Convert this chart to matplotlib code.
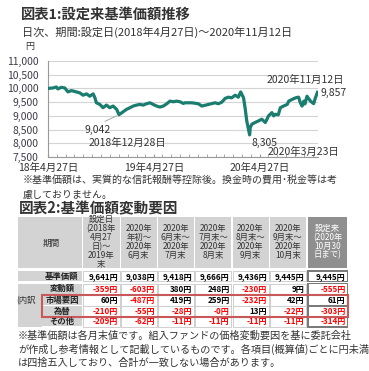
import matplotlib
matplotlib.use("Agg")
import matplotlib.pyplot as plt
import matplotlib.dates as mdates
from matplotlib.patches import Rectangle
from matplotlib.ticker import FuncFormatter
import pandas as pd

plt.rcParams['font.family'] = ['Noto Sans CJK JP', 'DejaVu Sans']

# chart data
dates = ["2018-04-27", "2018-05-14", "2018-05-26", "2018-05-31", "2018-06-12", "2018-06-24",
         "2018-07-05", "2018-07-17", "2018-08-03", "2018-08-15", "2018-08-26", "2018-09-07",
         "2018-09-18", "2018-09-30", "2018-10-06", "2018-10-11", "2018-10-23", "2018-11-03",
         "2018-11-15", "2018-11-26", "2018-12-08", "2018-12-20", "2018-12-28", "2019-01-12",
         "2019-01-23", "2019-02-04", "2019-02-15", "2019-02-27", "2019-03-10", "2019-03-22",
         "2019-04-02", "2019-04-14", "2019-04-25", "2019-05-07", "2019-05-18", "2019-05-30",
         "2019-06-11", "2019-06-22", "2019-07-04", "2019-07-15", "2019-07-27", "2019-08-07",
         "2019-08-13", "2019-09-05", "2019-09-28", "2019-10-10", "2019-11-02", "2019-11-25",
         "2019-12-06", "2019-12-18", "2019-12-30", "2020-01-10", "2020-01-21", "2020-02-02",
         "2020-02-13", "2020-02-21", "2020-03-02", "2020-03-08", "2020-03-13", "2020-03-23",
         "2020-03-25", "2020-03-31", "2020-04-11", "2020-04-23", "2020-05-04", "2020-05-16",
         "2020-05-22", "2020-05-27", "2020-06-08", "2020-06-14", "2020-06-19", "2020-06-30",
         "2020-07-07", "2020-07-18", "2020-07-31", "2020-08-05", "2020-08-16", "2020-08-31",
         "2020-09-08", "2020-09-14", "2020-09-20", "2020-09-26", "2020-09-30", "2020-10-07",
         "2020-10-19", "2020-10-30", "2020-11-05", "2020-11-12"]
nav = [10000, 10017, 10053, 9981, 10041, 10017,
       9873, 9921, 9873, 9837, 9753, 9801,
       9717, 9801, 9657, 9477, 9417, 9297,
       9393, 9297, 9357, 9237, 9042, 9153,
       9237, 9297, 9357, 9393, 9417, 9393,
       9441, 9477, 9417, 9357, 9321, 9357,
       9441, 9537, 9513, 9537, 9513, 9453,
       9477, 9477, 9441, 9357, 9417, 9477,
       9441, 9501, 9641, 9681, 9657, 9753,
       9681, 9873, 9657, 9237, 8818, 8305,
       8578, 8698, 8758, 8818, 8878, 8758,
       8878, 8998, 9118, 8998, 9058, 9038,
       9297, 9357, 9418, 9537, 9597, 9666,
       9681, 9477, 9357, 9537, 9436, 9717,
       9537, 9445, 9657, 9857]

# table data
col_heads = ["設定日\n(2018年\n4月27\n日)～\n2019年\n末",
             "2020年\n年初～\n2020年\n6月末",
             "2020年\n6月末～\n2020年\n7月末",
             "2020年\n7月末～\n2020年\n8月末",
             "2020年\n8月末～\n2020年\n9月末",
             "2020年\n9月末～\n2020年\n10月末",
             "設定来\n(2020年\n10月30\n日まで)"]
row_labels = ["基準価額", "変動額", "市場要因", "為替", "その他"]
kijun = [9641, 9038, 9418, 9666, 9436, 9445, 9445]
hendo = [-359, -603, 380, 248, -230, 9, -555]
shijo = [60, -487, 419, 259, -232, 42, 61]
kawase = [-210, -55, -28, -0.0, 13, -22, -303]
sonota = [-209, -62, -11, -11, -11, -11, -314]
table_rows = [kijun, hendo, shijo, kawase, sonota]

W, H = 369, 371
fig = plt.figure(figsize=(W / 100, H / 100), dpi=100)
TXT = '#333333'

# ---- chart ----
ax = fig.add_axes([48 / W, 1 - 157 / H, (318 - 48) / W, (157 - 61) / H])
x = pd.to_datetime(dates)
ax.plot(x, nav, color='#1a7d70', lw=2.3, solid_joinstyle='round', zorder=3)
ax.set_xlim(pd.Timestamp("2018-04-27"), pd.Timestamp("2020-11-14"))
ax.set_ylim(7500, 11000)
ax.set_yticks(range(7500, 11001, 500))
ax.yaxis.set_major_formatter(FuncFormatter(lambda v, p: f"{int(v):,}"))
ax.grid(axis='y', color='#d4d4d4', lw=0.8)
ax.set_axisbelow(True)
for s in ['top', 'right']:
    ax.spines[s].set_visible(False)
for s in ['left', 'bottom']:
    ax.spines[s].set_color('#999999')
    ax.spines[s].set_linewidth(0.8)
ax.xaxis.set_major_locator(mdates.MonthLocator(bymonth=4, bymonthday=27))
ax.xaxis.set_minor_locator(mdates.MonthLocator(bymonthday=27))
ax.xaxis.set_major_formatter(FuncFormatter(
    lambda v, p: mdates.num2date(v).strftime("%y年%-m月%d日")))
ax.tick_params(axis='x', which='both', direction='in', length=2.5, color='#999999',
               labelsize=7.5, labelcolor=TXT, pad=4)
ax.tick_params(axis='y', length=0, labelsize=7.5, labelcolor='#3f3a4a', pad=7)

# annotations
imin1 = dates.index("2018-12-28")
imin2 = dates.index("2020-03-23")
ann = dict(fontsize=7.5, color=TXT, textcoords='offset pixels', annotation_clip=False)
ax.annotate(f"{nav[imin1]:,}", (x[imin1], nav[imin1]), xytext=(-21, -15),
            ha='center', va='center',
            arrowprops=dict(arrowstyle='-', color='#b0b0b0', lw=0.8,
                            relpos=(0.5, 1.0), shrinkA=1, shrinkB=2), **ann)
ax.annotate("2018年12月28日", (x[imin1], nav[imin1]), xytext=(8, -28),
            ha='center', va='center', **ann)
ax.annotate(f"{nav[imin2]:,}", (x[imin2], nav[imin2]), xytext=(2, -8),
            ha='left', va='center', **ann)
ax.annotate("2020年3月23日", (x[imin2], nav[imin2]), xytext=(18, -17),
            ha='left', va='center', **ann)
ax.annotate(f"{nav[-1]:,}", (x[-1], nav[-1]), xytext=(3, -1),
            ha='left', va='center', **ann)
ax.annotate("2020年11月12日", (x[-1], nav[-1]), xytext=(-12, 12),
            ha='center', va='center', **ann)

# ---- overlay for texts and table ----
ov = fig.add_axes([0, 0, 1, 1])
ov.set_xlim(0, W)
ov.set_ylim(H, 0)
ov.axis('off')

ov.text(21, 15, "図表1:設定来基準価額推移", fontsize=10.3, fontweight='bold', color=TXT,
        va='center', ha='left')
ov.text(21.5, 32, "日次、期間:設定日(2018年4月27日)～2020年11月12日", fontsize=8,
        color=TXT, va='center', ha='left')
ov.text(25, 47, "円", fontsize=6.5, color=TXT, va='center', ha='left')
ov.text(22.5, 181, "※基準価額は、実質的な信託報酬等控除後。換金時の費用･税金等は考",
        fontsize=7.2, color=TXT, va='center', ha='left')
ov.text(22.5, 195, "慮しておりません。", fontsize=7.2, color=TXT, va='center', ha='left')
ov.text(19, 208, "図表2:基準価額変動要因", fontsize=10.5, fontweight='bold', color=TXT,
        va='center', ha='left')

notes = ["※基準価額は各月末値です。組入ファンドの価格変動要因を基に委託会社",
         "が作成し参考情報として記載しているものです。各項目(概算値)ごとに円未満",
         "は四捨五入しており、合計が一致しない場合があります。"]
for i, t in enumerate(notes):
    ov.text(18, 336 + i * 13.4, t, fontsize=7.3, color=TXT, va='center', ha='left')

# table layout (pixels)
cols = [(83, 119.5), (121, 156.5), (158, 193.5), (195, 231), (232.5, 268.5),
        (270, 305.5), (308, 347)]
head_top, head_bot = 217, 268
rows = [(271, 281), (283.5, 294), (295, 305.5), (306, 316), (316.5, 326.5)]
LG = '#d3d3d3'
DG = '#8f8f8f'


def rect(x0, y0, x1, y1, fc, ec='none', lw=0):
    ov.add_patch(Rectangle((x0, y0), x1 - x0, y1 - y0, facecolor=fc, edgecolor=ec,
                           linewidth=lw))


# header
rect(18, head_top, 81.5, head_bot, LG)
ov.text(51, 243, "期間", fontsize=6.2, color=TXT, ha='center', va='center')
for j, (x0, x1) in enumerate(cols):
    last = j == len(cols) - 1
    rect(x0, head_top, x1, head_bot, DG if last else LG)
    ov.text((x0 + x1) / 2, 241.8, col_heads[j], fontsize=6.0, linespacing=0.98,
            multialignment='center', color='white' if last else TXT,
            ha='center', va='center')

# left label column
rect(18, rows[0][0], 41.5, rows[0][1], LG)
rect(18, rows[1][0], 41.5, rows[4][1], LG)
ov.text(16, (rows[2][0] + rows[2][1]) / 2, "(内訳", fontsize=6, color=TXT,
        ha='left', va='center')

# col7 frames
rect(cols[6][0] - 1, rows[0][0] - 1, cols[6][1] + 1, rows[0][1] + 1, '#7a7a7a')
rect(cols[6][0] - 1, rows[1][0] - 1, cols[6][1] + 1, rows[4][1] + 1, '#7a7a7a')

for i, (y0, y1) in enumerate(rows):
    rect(42, y0 + 0.3, 81.5, y1 - 0.3, LG)
    ov.text(62, (y0 + y1) / 2, row_labels[i], fontsize=6, fontweight='bold',
            color='#222222', ha='center', va='center')
    for j, (x0, x1) in enumerate(cols):
        if j == len(cols) - 1:
            rect(x0 + 0.5, y0 + 0.5, x1 - 0.5, y1 - 0.5, 'white')
        else:
            rect(x0, y0, x1, y1, 'white', '#c8c8c8', 0.6)
        v = table_rows[i][j]
        neg = str(v).startswith('-')
        label = ("-" if neg else "") + f"{abs(int(v)):,}円"
        ov.text(x1 - 1.5, (y0 + y1) / 2 + 0.3, label, fontsize=5.8, fontweight='bold',
                color='#ff0000' if neg else 'black', ha='right', va='center')

# red highlight around 市場要因 / 為替
rect(41.5, 294.5, 347.5, 316.5, 'none', '#c9585a', 1.5)

fig.savefig("out.png", dpi=100)
